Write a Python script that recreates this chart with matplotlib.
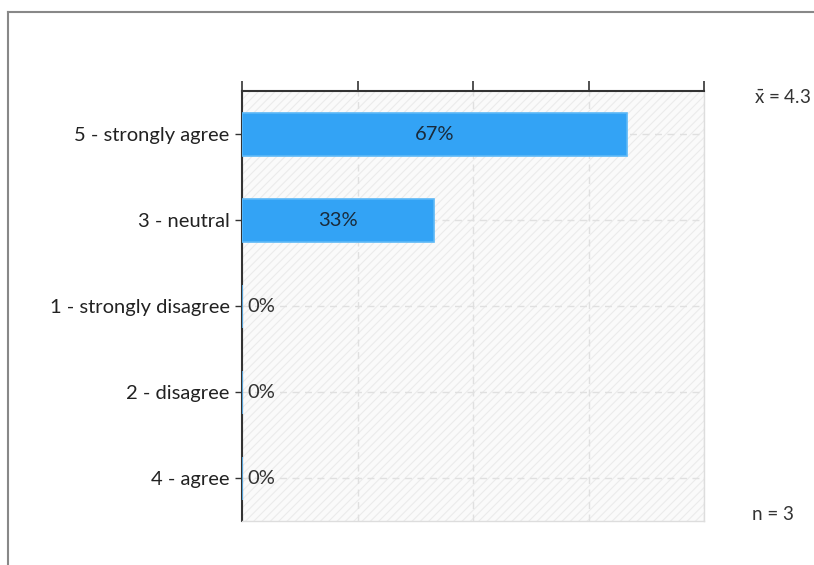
import matplotlib.pyplot as plt
from matplotlib.lines import Line2D

# Data
categories = ["5 - strongly agree", "3 - neutral", "1 - strongly disagree",
              "2 - disagree", "4 - agree"]
percents = [66.67, 33.33, 0, 0, 0]
labels = ["67%", "33%", "0%", "0%", "0%"]
mean_text = r"$\mathrm{\bar{x}}$ = 4.3"
n_text = "n = 3"
x_ticks = [0, 20, 40, 60, 80]

plt.rcParams['font.family'] = ['Lato', 'DejaVu Sans']
plt.rcParams['mathtext.fontset'] = 'custom'
plt.rcParams['mathtext.rm'] = 'Lato'
plt.rcParams['hatch.color'] = '#ebebeb'
plt.rcParams['hatch.linewidth'] = 0.8

fig = plt.figure(figsize=(8.14, 5.65), dpi=100)

# outer frame (only top and left edges visible)
fig.add_artist(Line2D([8 / 814, 8 / 814], [0, 1 - 11.5 / 565],
                      transform=fig.transFigure, color='#888888', lw=1.5))
fig.add_artist(Line2D([8 / 814, 1], [1 - 11.5 / 565, 1 - 11.5 / 565],
                      transform=fig.transFigure, color='#888888', lw=1.5))

ax = fig.add_axes([242 / 814, 1 - 521 / 565, 462 / 814, 430 / 565])
ax.patch.set_facecolor('#fafafa')
ax.patch.set_hatch('////')
ax.patch.set_edgecolor('#ebebeb')

ypos = list(range(len(categories)))
ax.barh(ypos, percents, height=0.5, color='#33a3f5', edgecolor='#5cb8f7',
        linewidth=1.2, zorder=3)

fs = 14.5
for y, v, lab in zip(ypos, percents, labels):
    if v > 0:
        ax.text(v / 2, y, lab, ha='center', va='center', fontsize=fs,
                color='#1a2a3a', zorder=4)
    else:
        ax.text(0.9, y, lab, ha='left', va='center', fontsize=fs,
                color='#333333', zorder=4)

ax.set_xlim(0, 80)
ax.set_ylim(4.5, -0.5)
ax.set_yticks(ypos)
ax.set_yticklabels(categories, fontsize=fs, color='#222222')
ax.set_xticks(x_ticks)
ax.xaxis.tick_top()
ax.tick_params(axis='x', direction='out', length=7, width=1.2,
               labeltop=False, color='#333333')
ax.tick_params(axis='y', direction='out', length=5, width=1.0,
               color='#333333', pad=4)

ax.grid(True, color='#e0e0e0', linestyle=(0, (5, 4)), linewidth=1.0, zorder=1)
ax.set_axisbelow(True)

for s in ['right', 'bottom']:
    ax.spines[s].set_color('#dddddd')
    ax.spines[s].set_linewidth(1.0)
for s in ['left', 'top']:
    ax.spines[s].set_color('#333333')
    ax.spines[s].set_linewidth(1.5)

fig.text(754 / 814, 1 - 97 / 565, mean_text, fontsize=fs - 1, color='#333333',
         va='center', ha='left')
fig.text(752 / 814, 1 - 514 / 565, n_text, fontsize=fs - 1, color='#333333',
         va='center', ha='left')

fig.savefig('out.png', dpi=100)
